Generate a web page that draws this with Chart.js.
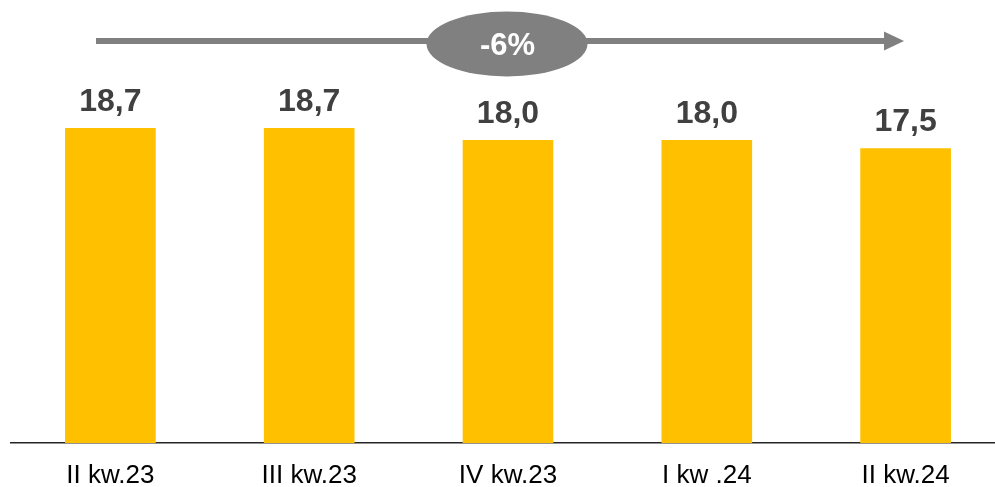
<!DOCTYPE html>
<html>
<head>
<meta charset="utf-8">
<script src="https://cdn.jsdelivr.net/npm/chart.js@4/dist/chart.umd.min.js"></script>
<style>
  html, body { margin: 0; padding: 0; background: #fff; overflow: hidden; }
  #wrap { width: 995px; height: 487px; overflow: hidden; position: relative; }
  canvas { display: block; }
</style>
</head>
<body>
<div id="wrap"><canvas id="c" width="1005" height="487"></canvas></div>
<script>
// Quarter labels and values (mln)
const quarters = ['II kw.23', 'III kw.23', 'IV kw.23', 'I kw .24', 'II kw.24'];
const values = [18.7, 18.7, 18.0, 18.0, 17.5];

const FONT = '"Liberation Sans", Arial, sans-serif';

// Value labels above each bar, with a decimal comma
const valueLabels = {
  id: 'valueLabels',
  afterDatasetsDraw(chart) {
    const ctx = chart.ctx;
    const meta = chart.getDatasetMeta(0);
    ctx.save();
    ctx.font = 'bold 32px ' + FONT;
    ctx.fillStyle = '#404040';
    ctx.textAlign = 'center';
    ctx.textBaseline = 'alphabetic';
    meta.data.forEach((bar, i) => {
      const txt = values[i].toFixed(1).replace('.', ',');
      ctx.fillText(txt, bar.x, bar.y - 17);
    });
    ctx.restore();
  }
};

// Trend arrow with the overall change badge
const trendArrow = {
  id: 'trendArrow',
  afterDraw(chart) {
    const ctx = chart.ctx;
    const first = values[0];
    const last = values[values.length - 1];
    const pct = Math.round((last - first) / first * 100);
    const y = 41;
    ctx.save();
    ctx.fillStyle = '#808080';
    ctx.strokeStyle = '#808080';
    ctx.lineWidth = 6;
    ctx.beginPath();
    ctx.moveTo(96, y);
    ctx.lineTo(886, y);
    ctx.stroke();
    ctx.beginPath();
    ctx.moveTo(884, y - 9.5);
    ctx.lineTo(904, y);
    ctx.lineTo(884, y + 9.5);
    ctx.closePath();
    ctx.fill();
    ctx.beginPath();
    ctx.ellipse(507, 44, 80.5, 32.5, 0, 0, Math.PI * 2);
    ctx.fill();
    ctx.fillStyle = '#ffffff';
    ctx.font = 'bold 31px ' + FONT;
    ctx.textAlign = 'center';
    ctx.textBaseline = 'alphabetic';
    ctx.fillText((pct > 0 ? '+' : '') + pct + '%', 507.5, 54.5);
    ctx.restore();
  }
};

new Chart(document.getElementById('c'), {
  type: 'bar',
  data: {
    labels: quarters,
    datasets: [{
      data: values,
      backgroundColor: '#FFC000',
      borderWidth: 0,
      categoryPercentage: 1,
      barPercentage: 0.456
    }]
  },
  options: {
    responsive: false,
    animation: false,
    devicePixelRatio: 1,
    layout: { padding: { top: 22, left: 11, right: 0, bottom: 0 } },
    plugins: { legend: { display: false }, tooltip: { enabled: false } },
    scales: {
      x: {
        grid: { display: false, drawTicks: false },
        border: { display: true, color: '#262626', width: 1.5 },
        ticks: {
          color: '#000000',
          font: { family: FONT, size: 26 },
          padding: 17,
          maxRotation: 0
        },
        afterFit(scale) { scale.height = 44; }
      },
      y: {
        display: false,
        min: 0,
        max: 25
      }
    }
  },
  plugins: [valueLabels, trendArrow]
});
</script>
</body>
</html>
